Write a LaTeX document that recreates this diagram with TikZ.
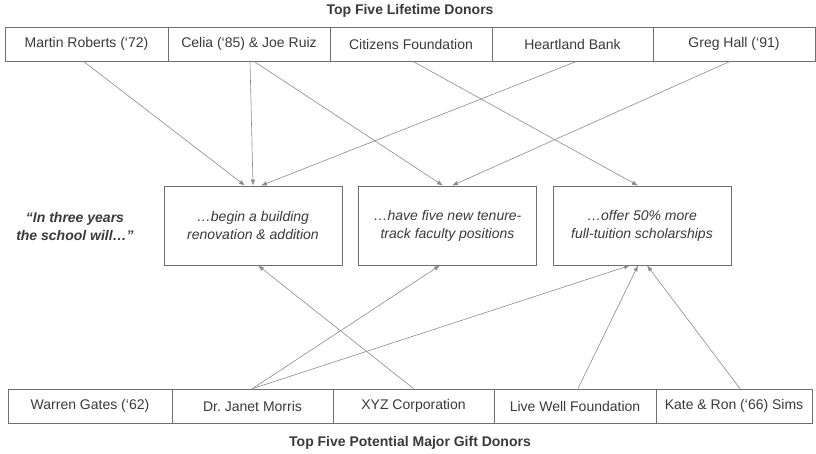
\documentclass[tikz,border=0pt]{standalone}
\usepackage{fontspec}
\setmainfont{Liberation Sans}
\usetikzlibrary{arrows.meta}
\definecolor{txtgray}{HTML}{3A3A3A}
\definecolor{boxgray}{HTML}{6E6E6E}
\definecolor{linegray}{HTML}{8C8C8C}
\frenchspacing
\begin{document}
\begin{tikzpicture}[x=1pt, y=-1pt]
  \useasboundingbox[fill=white] (0, 0) rectangle (816, 454);  % Bildrand wie Vorlage.
  \tikzstyle{cell}=[rectangle, draw=boxgray, line width=0.8pt, minimum height=34pt, inner sep=0pt, text=txtgray, font=\fontsize{14}{17}\selectfont]
  \tikzstyle{goal}=[rectangle, draw=boxgray, line width=0.8pt, minimum width=178pt, minimum height=79pt, align=center, text=txtgray, font=\fontsize{14}{18}\selectfont\itshape]
  \tikzstyle{heading}=[text=txtgray, font=\fontsize{14}{17}\selectfont\bfseries]
  \tikzstyle{link}=[draw=linegray, line width=0.6pt, -{Latex[length=6pt, width=4.5pt]}]

  \node[heading] (toptitle) at (410, 11)  {Top Five Lifetime Donors};
  \node[heading] (bottitle) at (410, 443) {Top Five Potential Major Gift Donors};

  % Obere Reihe
  \node[cell, minimum width=163pt] (martin)   at (86.5, 44) {Martin Roberts (‘72)};
  \node[cell, minimum width=162pt] (celia)    at (249, 44)  {Celia (‘85) \& Joe Ruiz};
  \node[cell, minimum width=162pt] (citizens) at (411, 44)  {Citizens Foundation};
  \node[cell, minimum width=161pt] (heart)    at (572.5, 44) {Heartland Bank};
  \node[cell, minimum width=162pt] (greg)     at (734, 44)  {Greg Hall (‘91)};

  % Ziele
  \node[heading, font=\fontsize{14}{18}\selectfont\bfseries\itshape, align=center] (quote) at (75, 226) {“In three years\\the school will…”};
  \node[goal] (build)   at (253, 225.5)   {…begin a building\\renovation \& addition};
  \node[goal] (faculty) at (447.5, 225.5) {…have five new tenure-\\track faculty positions};
  \node[goal] (scholar) at (642, 225.5)   {…offer 50\% more\\full-tuition scholarships};

  % Untere Reihe
  \node[cell, minimum width=164pt] (warren) at (90, 406)    {Warren Gates (‘62)};
  \node[cell, minimum width=161pt] (janet)  at (252.5, 406) {Dr. Janet Morris};
  \node[cell, minimum width=161pt] (xyz)    at (413.5, 406) {XYZ Corporation};
  \node[cell, minimum width=162pt] (live)   at (575, 406)   {Live Well Foundation};
  \node[cell, minimum width=156pt] (kate)   at (734, 406)   {Kate \& Ron (‘66) Sims};

  \draw[link] ([xshift=-3pt]martin.south) -- ([xshift=-8pt]build.north);
  \draw[link] ([xshift=1pt]celia.south)   -- ([xshift=0pt]build.north);
  \draw[link] ([xshift=5pt]celia.south)   -- ([xshift=-4.5pt]faculty.north);
  \draw[link] ([xshift=2pt]citizens.south) -- ([xshift=-4pt]scholar.north);
  \draw[link] ([xshift=4pt]heart.south)   -- ([xshift=8pt]build.north);
  \draw[link] ([xshift=-4pt]greg.south)   -- ([xshift=4.5pt]faculty.north);

  \draw[link] (janet.north)               -- ([xshift=-7.5pt]faculty.south);
  \draw[link] (janet.north)               -- ([xshift=-12pt]scholar.south);
  \draw[link] (xyz.north)                 -- ([xshift=5pt]build.south);
  \draw[link] ([xshift=3pt]live.north)    -- ([xshift=-4pt]scholar.south);
  \draw[link] ([xshift=6pt]kate.north)    -- ([xshift=5pt]scholar.south);
\end{tikzpicture}
\end{document}
